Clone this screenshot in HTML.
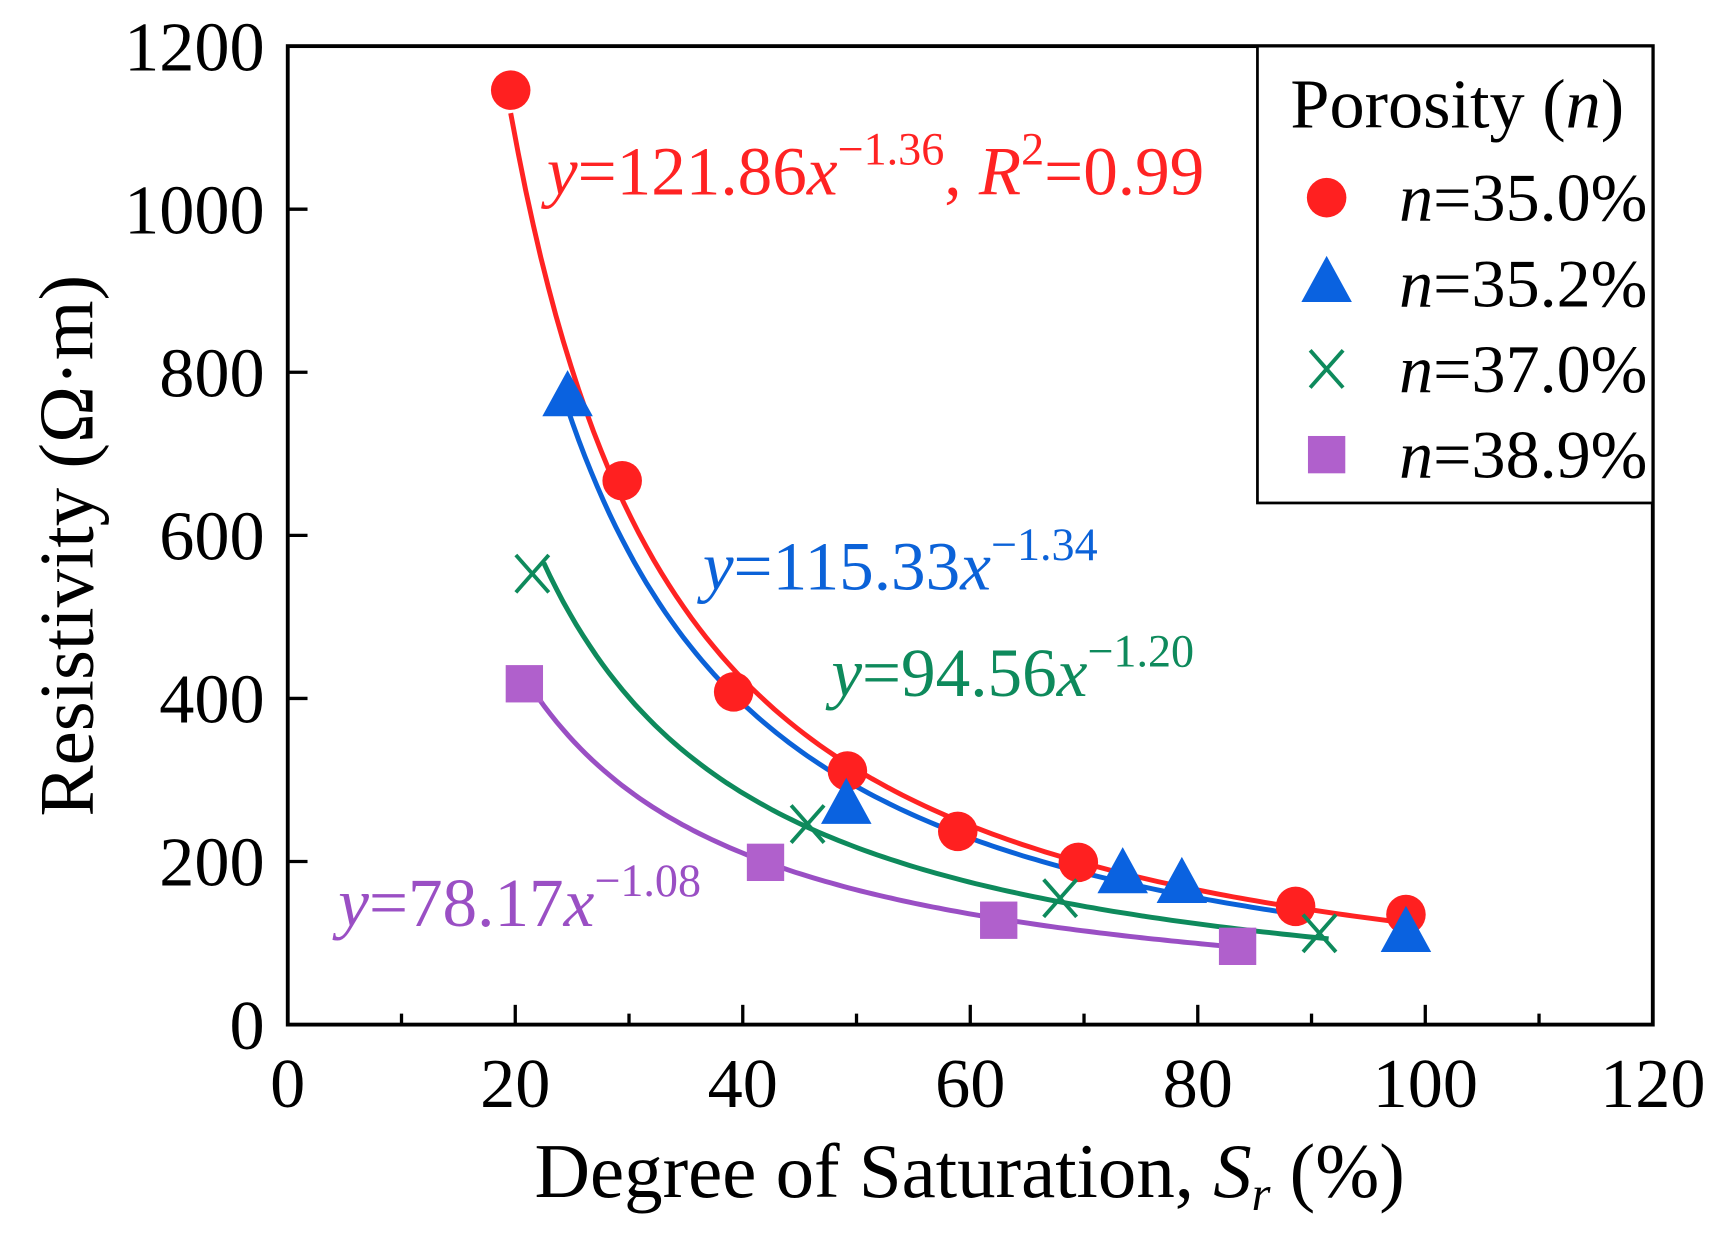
<!DOCTYPE html>
<html><head><meta charset="utf-8"><style>
html,body{margin:0;padding:0;background:#fff;}
svg{display:block;font-family:"Liberation Serif",serif;}
</style></head><body>
<svg id="chart" width="1722" height="1236" viewBox="0 0 1568 1125.5" xmlns="http://www.w3.org/2000/svg">
<rect width="1568" height="1126" fill="#fff"/>
<g id="grid"></g>
<g id="curves"></g>
<g id="marks"></g>
<g id="ann" font-style="normal"></g>
</svg>
<script>
const xTicks=[0,20,40,60,80,100,120];
const yTicks=[0,200,400,600,800,1000,1200];
const redX=[19.6,29.4,39.2,49.2,58.9,69.5,88.6,98.3];
const redY=[1146,667,408,311,237,199,145,135];
const blueX=[24.6,49.1,73.4,78.6,98.3];
const blueY=[769,269,184,172,112];
const greenX=[21.5,45.7,67.9,90.7];
const greenY=[553,246,155,112];
const purpleX=[20.8,42,62.5,83.5];
const purpleY=[418,199,128,96];
const fitA=[121.86,115.33,94.56,78.17];
const fitB=[-1.36,-1.34,-1.20,-1.08];
const fitFrom=[19.6,24.5,22.5,21];
const fitTo=[99,89.6,91.5,84];

const NS="http://www.w3.org/2000/svg";
const L=262,R=1505,T=42,B=933;
const sx=v=>L+(v-0)/(120-0)*(R-L);
const sy=v=>B-(v-0)/(1200-0)*(B-T);
function mk(tag,attrs,parent,text){const e=document.createElementNS(NS,tag);for(const k in attrs)e.setAttribute(k,attrs[k]);if(text!==undefined)e.textContent=text;parent.appendChild(e);return e;}
const g=document.getElementById('grid'),cv=document.getElementById('curves'),mg=document.getElementById('marks'),an=document.getElementById('ann');

let fr=mk('rect',{x:L,y:T,width:R-L,height:B-T,fill:'none',stroke:'#000','stroke-width':3.5},g);

xTicks.forEach(t=>{
  mk('line',{x1:sx(t),x2:sx(t),y1:B,y2:B-18,stroke:'#000','stroke-width':3},g);
  if(t<120) mk('line',{x1:sx(t+10),x2:sx(t+10),y1:B,y2:B-10,stroke:'#000','stroke-width':3},g);
  const e=mk('text',{x:sx(t),y:1008,'font-size':64,'text-anchor':'middle'},g,String(t));
  
});
yTicks.forEach(t=>{
  mk('line',{x1:L,x2:L+18,y1:sy(t),y2:sy(t),stroke:'#000','stroke-width':3},g);
  const e=mk('text',{x:241,y:sy(t)+22,'font-size':64,'text-anchor':'end'},g,String(t));
  
});
let xt=mk('text',{x:883,y:1090,'font-size':70,'text-anchor':'middle'},g);
xt.innerHTML='Degree of Saturation, <tspan font-style="italic">S</tspan><tspan font-style="italic" font-size="44" dy="12">r</tspan><tspan dy="-12"> (%)</tspan>';

let yt=mk('text',{x:0,y:0,'font-size':70,'text-anchor':'middle',transform:'translate(84,497) rotate(-90)'},g,'Resistivity (Ω·m)');


const cols=['#ff2323','#0b62d8','#0e8a5c','#9a4fc4'];
const curveNames=['fit-curve-35-0','fit-curve-35-2','fit-curve-37-0','fit-curve-38-9'];
fitA.forEach((a,i)=>{
  let d='';
  for(let k=0;k<=120;k++){const x=fitFrom[i]+(fitTo[i]-fitFrom[i])*k/120;const y=a*Math.pow(x/100,fitB[i]);d+=(k?'L':'M')+sx(x).toFixed(1)+','+sy(y).toFixed(1);}
  const p=mk('path',{d:d,fill:'none',stroke:cols[i],'stroke-width':4.5},cv);
  
});

function circle(x,y,par){return mk('circle',{cx:x,cy:y,r:18,fill:'#ff2020'},par);}
function tri(x,y,par){return mk('polygon',{points:`${x},${y-25} ${x-23},${y+17} ${x+23},${y+17}`,fill:'#0a62e0'},par);}
function cross(x,y,par){const gg=mk('g',{stroke:'#0e8a5c','stroke-width':3.5},par);mk('line',{x1:x-15,y1:y-17,x2:x+15,y2:y+17},gg);mk('line',{x1:x-15,y1:y+17,x2:x+15,y2:y-17},gg);return gg;}
function sq(x,y,par){return mk('rect',{x:x-17,y:y-17,width:34,height:34,fill:'#b060cc'},par);}
redX.forEach((x,i)=>{const e=circle(sx(x),sy(redY[i]),mg);});
blueX.forEach((x,i)=>{const e=tri(sx(x),sy(blueY[i]),mg);});
greenX.forEach((x,i)=>{const e=cross(sx(x),sy(greenY[i]),mg);});
purpleX.forEach((x,i)=>{const e=sq(sx(x),sy(purpleY[i]),mg);});

function eq(x,y,col,a,b,extra,name){
  const t=mk('text',{x:x,y:y,'font-size':63,fill:col},an);
  t.innerHTML=`<tspan font-style="italic">y</tspan>=${a}<tspan font-style="italic">x</tspan><tspan font-size="42" dy="-27">−${b}</tspan><tspan dy="27">${extra}</tspan>`;
  
}
eq(498,177,cols[0],'121.86','1.36',', <tspan font-style="italic">R</tspan><tspan font-size="42" dy="-27">2</tspan><tspan dy="27">=0.99</tspan>','equation-n35-0');
eq(640,537,cols[1],'115.33','1.34','','equation-n35-2');
eq(757,634,cols[2],'94.56','1.20','','equation-n37-0');
eq(308,843,cols[3],'78.17','1.08','','equation-n38-9');

const lg=mk('g',{},mg);

mk('rect',{x:1145,y:42,width:360,height:416,fill:'#fff',stroke:'#000','stroke-width':2.5},lg);
const lt=mk('text',{x:1175,y:116,'font-size':64},lg);
lt.innerHTML='Porosity (<tspan font-style="italic">n</tspan>)';

const legLabels=['35.0%','35.2%','37.0%','38.9%'];
const legFns=[circle,tri,cross,sq];
legLabels.forEach((s,i)=>{
  const y=180+i*78;
  legFns[i](1208,y,lg);
  const t=mk('text',{x:1274,y:y+21,'font-size':62},lg);
  t.innerHTML='<tspan font-style="italic">n</tspan>='+s;
  
});
</script>
</body></html>
